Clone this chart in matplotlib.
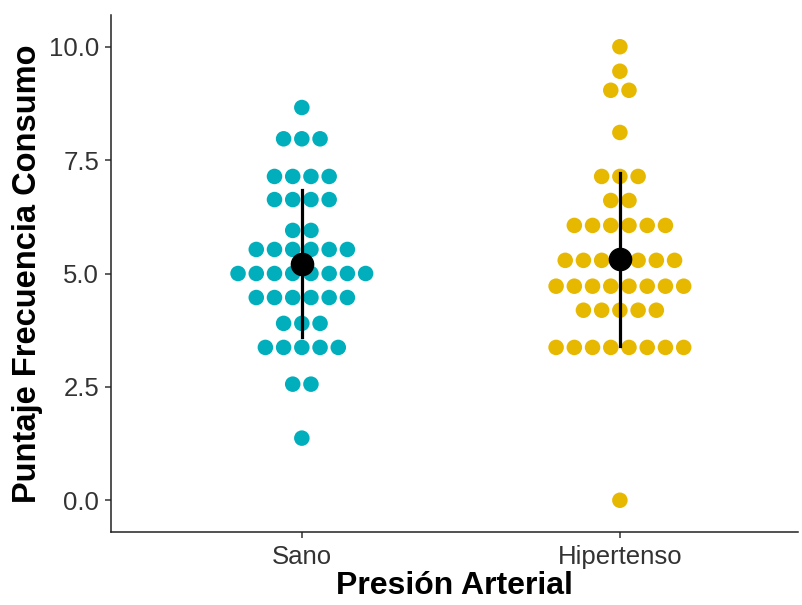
import matplotlib
matplotlib.use("Agg")
import matplotlib.pyplot as plt
import numpy as np

plt.rcParams['font.family'] = ['Liberation Sans', 'DejaVu Sans']

# grupos
grupos = ["Sano", "Hipertenso"]
colores = ["#00AFBB", "#E7B800"]

# niveles de cada fila del dotplot y numero de puntos por fila
sano_niveles = [8.66, 7.97, 7.14, 6.63, 5.95, 5.53, 5.00, 4.47, 3.90, 3.37, 2.56, 1.37]
sano_cuenta = [1, 3, 4, 4, 2, 6, 8, 6, 3, 5, 2, 1]
hiper_niveles = [10.0, 9.46, 9.04, 8.11, 7.14, 6.61, 6.06, 5.29, 4.72, 4.19, 3.37, 0.0]
hiper_cuenta = [1, 1, 2, 1, 3, 2, 6, 7, 8, 5, 8, 1]

# media y desviacion
medias = [5.22, 5.31]
desv = [1.62, 1.90]

paso = 0.0573  # separacion horizontal entre puntos

fig = plt.figure(figsize=(8.03, 6.05), dpi=100)
ax = fig.add_axes([111 / 803, 73 / 605, 687 / 803, 517 / 605])

datos = [(sano_niveles, sano_cuenta), (hiper_niveles, hiper_cuenta)]
for i, (niveles, cuentas) in enumerate(datos):
    xs, ys = [], []
    for nivel, n in zip(niveles, cuentas):
        for k in range(n):
            xs.append(i + 1 + (k - (n - 1) / 2) * paso)
            ys.append(nivel)
    ax.scatter(xs, ys, s=125, color=colores[i], edgecolors='none', zorder=2)

for i in range(2):
    ax.plot([i + 1, i + 1], [medias[i] - desv[i], medias[i] + desv[i]], color='black', lw=2.3, zorder=3)
    ax.plot(i + 1, medias[i], 'o', color='black', ms=16, zorder=4)

ax.set_xlim(0.4, 2.56)
ax.set_ylim(-0.7, 10.7)
ax.set_xticks([1, 2])
ax.set_xticklabels(grupos)
ax.set_yticks([0, 2.5, 5, 7.5, 10])
ax.set_yticklabels(["0.0", "2.5", "5.0", "7.5", "10.0"])
ax.spines['top'].set_visible(False)
ax.spines['right'].set_visible(False)
for s in ['left', 'bottom']:
    ax.spines[s].set_linewidth(1.1)
    ax.spines[s].set_color('#222222')
ax.tick_params(length=4.5, width=1.1, color='#333333', labelsize=18.5, labelcolor='#333333')
ax.tick_params(axis='x', pad=5)
ax.tick_params(axis='y', pad=4)
ax.set_xlabel("Presión Arterial", fontsize=23, fontweight='bold', labelpad=1)
ax.set_ylabel("Puntaje Frecuencia Consumo", fontsize=23.5, fontweight='bold', labelpad=4)

fig.savefig("out.png", dpi=100)
